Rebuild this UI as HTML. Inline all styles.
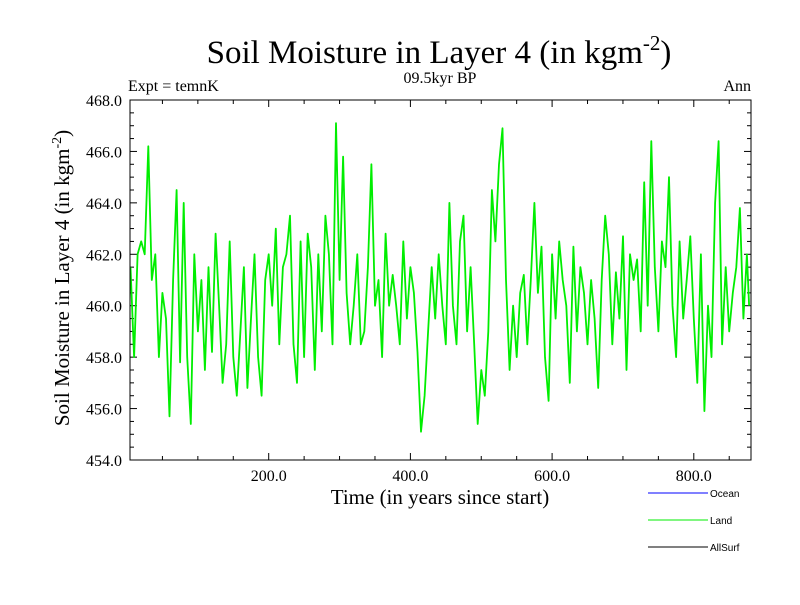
<!DOCTYPE html>
<html><head><meta charset="utf-8"><style>
body{margin:0;background:#fff;width:800px;height:600px;overflow:hidden}
svg text{font-family:"Liberation Serif",serif;fill:#000}
</style></head><body>
<svg id="chart" width="800" height="600" xmlns="http://www.w3.org/2000/svg">
<text x="439" y="63" font-size="33" text-anchor="middle">Soil Moisture in Layer 4 (in kgm<tspan dy="-13" font-size="21">-2</tspan><tspan dy="13">)</tspan></text>
<text x="128" y="91" font-size="16">Expt = temnK</text>
<text x="440" y="83" font-size="16" text-anchor="middle">09.5kyr BP</text>
<text x="751" y="91" font-size="16" text-anchor="end">Ann</text>
<text transform="translate(69,278) rotate(-90)" font-size="21" text-anchor="middle">Soil Moisture in Layer 4 (in kgm<tspan dy="-8" font-size="14">-2</tspan><tspan dy="8">)</tspan></text>
<text x="440" y="504" font-size="21" text-anchor="middle">Time (in years since start)</text>
<g id="ticks"></g>
<g id="series"></g>
<rect x="130" y="100" width="621" height="360" fill="none" stroke="#000" stroke-width="1"/>
<g>
<line x1="648" y1="493" x2="708" y2="493" stroke="#0000ff"/>
<text x="710" y="497" style="font-family:'Liberation Sans',sans-serif" font-size="10">Ocean</text>
<line x1="648" y1="520" x2="708" y2="520" stroke="#00ee00"/>
<text x="710" y="524" style="font-family:'Liberation Sans',sans-serif" font-size="10">Land</text>
<line x1="648" y1="547" x2="708" y2="547" stroke="#000"/>
<text x="710" y="551" style="font-family:'Liberation Sans',sans-serif" font-size="10">AllSurf</text>
</g>
</svg>
<script>
const years=[5,10,15,20,25,30,35,40,45,50,55,60,65,70,75,80,85,90,95,100,105,110,115,120,125,130,135,140,145,150,155,160,165,170,175,180,185,190,195,200,205,210,215,220,225,230,235,240,245,250,255,260,265,270,275,280,285,290,295,300,305,310,315,320,325,330,335,340,345,350,355,360,365,370,375,380,385,390,395,400,405,410,415,420,425,430,435,440,445,450,455,460,465,470,475,480,485,490,495,500,505,510,515,520,525,530,535,540,545,550,555,560,565,570,575,580,585,590,595,600,605,610,615,620,625,630,635,640,645,650,655,660,665,670,675,680,685,690,695,700,705,710,715,720,725,730,735,740,745,750,755,760,765,770,775,780,785,790,795,800,805,810,815,820,825,830,835,840,845,850,855,860,865,870,875,878];
const landValues=[461.5,458,462,462.5,462,466.2,461,462,458,460.5,459.5,455.7,461,464.5,457.8,464,458,455.4,462,459,461,457.5,461.5,458.2,462.8,460,457,458.5,462.5,458,456.5,459,461.5,456.8,459.5,462,458,456.5,461,462,460,463,458.5,461.5,462,463.5,458.5,457,462.5,458,462.8,461.5,457.5,462,459,463.5,462,458.5,467.1,461,465.8,460.5,458.5,460,462,458.5,459,461.5,465.5,460,461,458,462.8,460,461.2,460,458.5,462.5,459.5,461.5,460.5,458.2,455.1,456.5,459,461.5,459.5,462,460,458.5,464,460,458.5,462.5,463.5,459,461.5,458.5,455.4,457.5,456.5,459,464.5,462.5,465.5,466.9,461,457.5,460,458,460.5,461.2,458.5,461,464,460.5,462.3,458,456.3,462,459.5,462.5,461,460,457,462.3,459,461.5,460.5,458.5,461,459.5,456.8,461,463.5,462,458.5,461.3,459.5,462.7,457.5,462,461,461.8,459,464.8,460,466.4,461.5,459,462.5,461.5,465,460,458,462.5,459.5,461,462.7,459.5,457,462,455.9,460,458,464,466.4,458.5,461.5,459,460.5,461.5,463.8,459.5,462,460];
const xTickLabels=[200,400,600,800];
const yTickLabels=[454,456,458,460,462,464,466,468];
const X0=127,XS=0.7085,Y0=100,YMAX=468,YMIN=454,YH=360;
function xs(v){return X0+v*XS;}
function ys(v){return Y0+(YMAX-v)/(YMAX-YMIN)*YH;}
const NS="http://www.w3.org/2000/svg";
const tg=document.getElementById('ticks');
function mk(tag,attrs,parent){const e=document.createElementNS(NS,tag);for(const k in attrs)e.setAttribute(k,attrs[k]);parent.appendChild(e);return e;}
for(let v=50;v<=850;v+=50){const x=xs(v);const major=v%200===0;const L=major?7:4;
 const t1=mk('line',{x1:x,x2:x,y1:460,y2:460-L,stroke:'#000'},tg);
 
 
 const t2=mk('line',{x1:x,x2:x,y1:100,y2:100+L,stroke:'#000'},tg);
 
 }
xTickLabels.forEach(v=>{const t=mk('text',{x:xs(v),y:481,'font-size':16,'text-anchor':'middle'},tg);t.textContent=v.toFixed(1);
 
 });
for(let v=454;v<=468.001;v+=0.5){const y=ys(v);const major=Math.abs(v-Math.round(v/2)*2)<0.01;const L=major?7:4;
 const a=mk('line',{x1:130,x2:130+L,y1:y,y2:y,stroke:'#000'},tg);
 
 
 const b=mk('line',{x1:751,x2:751-L,y1:y,y2:y,stroke:'#000'},tg);
 
 }
yTickLabels.forEach(v=>{const t=mk('text',{x:122,y:ys(v)+6,'font-size':16,'text-anchor':'end'},tg);t.textContent=v.toFixed(1);
 
 });
const d=years.map((yr,i)=>(i?'L':'M')+xs(yr).toFixed(1)+','+ys(landValues[i]).toFixed(1)).join('');
const p=mk('path',{d:d,fill:'none',stroke:'#00ee00','stroke-width':1.8,'stroke-linejoin':'round'},document.getElementById('series'));


</script>
</body></html>
